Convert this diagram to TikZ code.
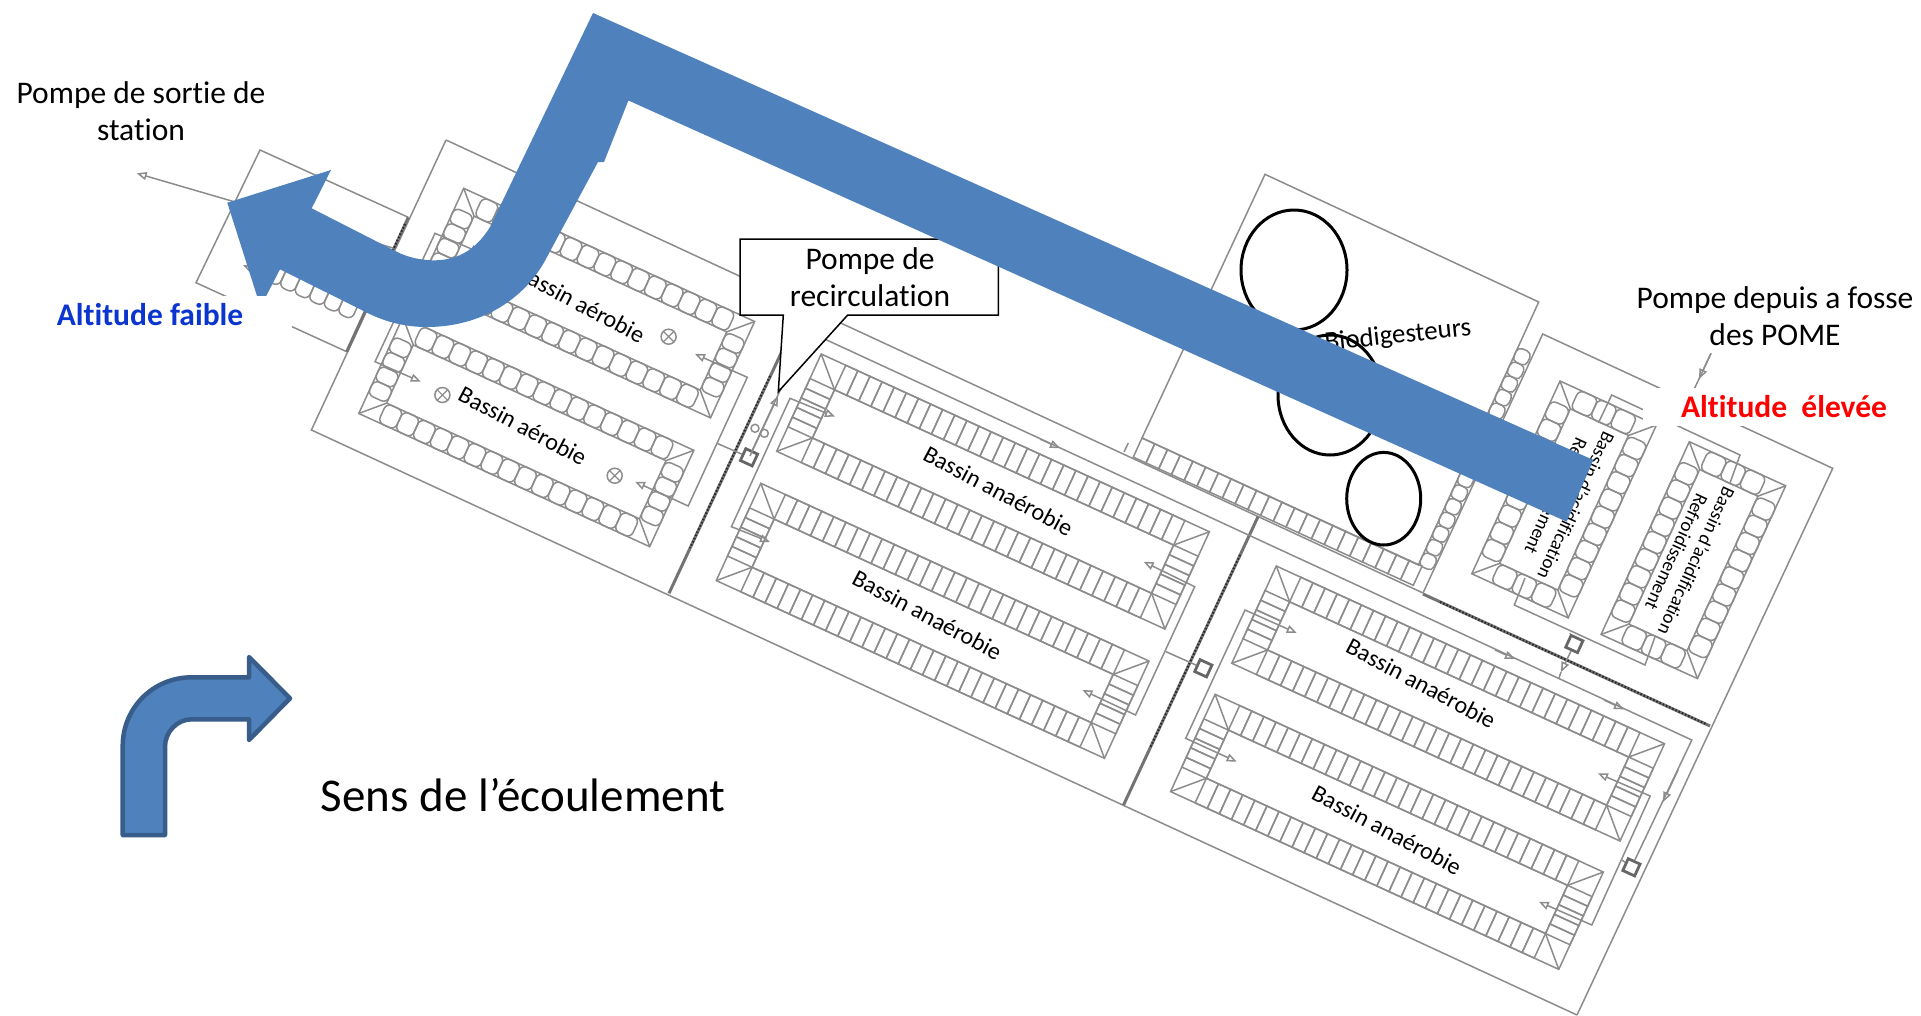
\documentclass[tikz,border=0pt]{standalone}
\usepackage{fontspec}
\setmainfont[Ligatures=NoCommon]{Carlito}
\usetikzlibrary{positioning, arrows.meta, calc}

\definecolor{bleufleche}{HTML}{4F81BD}
\definecolor{bleucontour}{HTML}{385D8A}
\definecolor{bleufaible}{HTML}{0B35CF}
\definecolor{traitplan}{gray}{0.55}

\tikzset{
    plan/.style={draw=traitplan, line width=1.5pt},
    cellule/.style={draw=traitplan, line width=1.5pt},
    conduite/.style={draw=traitplan, line width=1.5pt, -{Triangle[open, length=10pt, width=8pt]}},
    cadre/.style={draw=traitplan, line width=1.5pt, {Triangle[open, length=10pt, width=8pt]}-{Triangle[open, length=10pt, width=8pt]}},
    cloison/.style={draw=black!55, line width=3pt},
    pointille/.style={draw=black!85, line width=2pt, dash pattern=on 1.5pt off 2pt},
    pompe/.style={draw=black!60, line width=2.8pt, rectangle, minimum size=13pt, inner sep=0pt, rotate=-24.6},
    vanne/.style={draw=traitplan, line width=1.5pt, circle, minimum size=8pt, inner sep=0pt},
    aerateur/.style={draw=traitplan, line width=1.5pt, circle, minimum size=15pt, inner sep=0pt,
        path picture={\draw[traitplan, line width=1.2pt] (path picture bounding box.north west) -- (path picture bounding box.south east)
            (path picture bounding box.north east) -- (path picture bounding box.south west);}},
    texte/.style={font=\fontsize{31.5}{37}\selectfont, align=center, inner sep=0pt},
    etiquette/.style={font=\fontsize{24}{28}\selectfont, inner sep=0pt},
    acide/.style={font=\fontsize{19}{22}\selectfont, align=center, inner sep=0pt, rotate=-114.6},
    altitude/.style={font=\fontsize{31.5}{37}\selectfont\bfseries, fill=white, inner sep=0pt, minimum height=38pt}
}

% corner, length, width, bank, long cells, short cells, rounding
\newcommand{\bassin}[7]{
    \begin{scope}[shift={#1}, rotate=-24.6]
        \pgfmathsetmacro{\pasL}{(#2-2*#4)/#5}
        \pgfmathsetmacro{\pasW}{(#3-2*#4)/#6}
        \draw[cellule] (0,0) rectangle (#2,#3);
        \draw[cellule] (#4,#4) rectangle (#2-#4,#3-#4);
        % corners
        \draw[cellule] (0,0) -- (#4,#4) (#2,0) -- (#2-#4,#4) (0,#3) -- (#4,#3-#4) (#2,#3) -- (#2-#4,#3-#4);
        % long sides
        \foreach \i in {1,...,#5}
        {
            \draw[cellule, rounded corners=#7] (#4+\i*\pasL-\pasL,0) rectangle ++(\pasL,#4);
            \draw[cellule, rounded corners=#7] (#4+\i*\pasL-\pasL,#3-#4) rectangle ++(\pasL,#4);
        }
        % short sides
        \foreach \i in {1,...,#6}
        {
            \draw[cellule, rounded corners=#7] (0,#4+\i*\pasW-\pasW) rectangle ++(#4,\pasW);
            \draw[cellule, rounded corners=#7] (#2-#4,#4+\i*\pasW-\pasW) rectangle ++(#4,\pasW);
        }
    \end{scope}
}

% origin, angle, cells, pitch, width, rounding
\newcommand{\rangee}[6]{
    \begin{scope}[shift={#1}, rotate=#2]
        \foreach \i in {1,...,#3}
        {
            \draw[cellule, rounded corners=#6] (\i*#4-#4,0) rectangle ++(#4,#5);
        }
    \end{scope}
}

\begin{document}
\begin{tikzpicture}[x=1pt, y=-1pt]
        \useasboundingbox (0,0) rectangle (1921,1015);

        % block outlines
        \draw[plan] (446,140) -- (311.4,430) -- (1577,1015);
        \draw[plan] (446,140) -- (1423,593);
        \draw[plan] (1265,174.3) -- (1538.7,302) -- (1418.3,565) -- (1142,438) -- cycle;
        \draw[plan] (1423,593) -- (1542.7,334) -- (1832.7,468.3) -- (1577,1015);
        \draw[plan] (408.3,217.3) -- (260,150) -- (196,282.7) -- (346.7,351.7);

        % walls between the blocks
        \draw[cloison] (804,304) -- (669,593.3);
        \draw[cloison] (1258,516.7) -- (1123.5,805);
        \draw[cloison] (1423,594) -- (1710,726);
        \draw[cloison] (408.3,217.3) -- (346.7,351.7);
        \draw[pointille] (770,376) -- (690,548);
        \draw[pointille] (1240,555) -- (1150,748);
        \draw[pointille] (1440,602) -- (1706,724);
        \draw[pointille] (405,224) -- (392,252);

        % bands of cells round the digesters
        \rangee{(1142,438)}{-24.6}{22}{14}{21}{0pt}
        \rangee{(1418.3,565)}{65.4}{16}{15}{15}{5pt}
        \rangee{(273,260.5)}{-24.6}{6}{16}{21}{6pt}
        \draw[plan] (1128.3,443) -- (1124,452);

        % basins
        \bassin{(821.2,354)}{427}{107}{27}{28}{5}{0pt}
        \bassin{(760.8,483.3)}{427}{107}{27}{28}{5}{0pt}
        \bassin{(1276.3,566)}{427}{107}{27}{28}{5}{0pt}
        \bassin{(1215.1,694.3)}{427}{107}{27}{28}{5}{0pt}
        \bassin{(463.7,188.3)}{320}{106}{21}{15}{4}{6pt}
        \bassin{(402.9,317.1)}{320}{106}{21}{15}{4}{6pt}
        \bassin{(1560,381)}{106}{212}{21}{3}{9}{6pt}
        \bassin{(1689.3,441.7)}{106}{212}{21}{3}{9}{6pt}

        % feed frames of the basins
        \draw[cadre] (1143.6,561.7) -- (1194.7,586.7) -- (1135.5,715) -- (1082.4,690);
        \draw[cadre] (835,416.7) -- (790,398.3) -- (731.4,526.7) -- (770,542);
        \draw[cadre] (1296.7,633) -- (1245,610) -- (1185.7,738.3) -- (1236.7,761.7);
        \draw[cadre] (1597.9,773.3) -- (1650.2,796) -- (1591.8,925) -- (1538.8,901.7);
        \draw[cadre] (695,354) -- (747.3,377.3) -- (688.2,506) -- (635,481.7);
        \draw[cadre] (480.8,253) -- (435,233.3) -- (375,361.7) -- (420.8,381.7);
        \draw[plan] (1598.3,423) -- (1611.7,395) -- (1740,455) -- (1730,483);
        \draw[plan] (1525,578) -- (1514.3,605) -- (1645,665) -- (1655,636.7);

        % pumps
        \node[pompe] (pompeA) at (749,457.3) {};
        \node[pompe] (pompeB) at (1203.3,668.3) {};
        \node[pompe] (pompeC) at (1631.4,867.3) {};
        \node[pompe] (pompeD) at (1574.3,644) {};
        \node[vanne] (vanneA) at (755,428.3) {};
        \node[vanne] (vanneB) at (764.3,433.3) {};

        % main pipe
        \coordinate (coudeA) at (807.7,331.2);
        \coordinate (coudeB) at (1691.8,740);
        \draw[plan] (pompeA) -- (coudeA) -- (coudeB) -- (pompeC);
        \draw[plan] (717,443.3) -- (pompeA);
        \draw[plan] (1166,651.7) -- (pompeB);
        \draw[plan] (1622,860) -- (pompeC);
        \draw[plan] (1570,633) -- (pompeD);
        \draw[conduite] (750,456) -- (778,396);
        \draw[conduite] (1040,439) -- (1060,448.2);
        \draw[conduite] (1495,650) -- (1515,659);
        \draw[conduite] (1604,700) -- (1624,709.4);
        \draw[conduite] (1678,770) -- (1663,802);
        \draw[conduite] (pompeD) -- (1561,672);
        \draw[plan] (1561,672) -- (1559,678);

        % inlet and outlet
        \coordinate (entree) at (1711,353.3);
        \coordinate (sortie) at (136.7,173.3);
        \draw[plan] (entree) -- (1690,398);
        \draw[conduite] (entree) -- (1699,379);
        \draw[conduite] (393,248) -- (sortie);
        \draw[conduite] (265,275) -- (243,265);

        % aerators
        \node[aerateur] (aerA) at (668.6,336.7) {};
        \node[aerateur] (aerB) at (614.7,475.7) {};
        \node[aerateur] (aerC) at (442.4,395) {};

        % digesters
        \draw[black, line width=3pt] (1294,270) ellipse (53 and 60);
        \draw[black, line width=3pt] (1330,395) ellipse (52 and 60);
        \draw[black, line width=3pt] (1383.7,498.7) ellipse (37 and 46.3);

        % basin labels
        \node[etiquette, rotate=-28] (labA) at (998.4,490.7) {Bassin anaérobie};
        \node[etiquette, rotate=-28] (labB) at (927.3,615) {Bassin anaérobie};
        \node[etiquette, rotate=-28] (labC) at (1421.2,683.3) {Bassin anaérobie};
        \node[etiquette, rotate=-28] (labD) at (1386.9,830) {Bassin anaérobie};
        \node[etiquette, rotate=-28] (labE) at (581,303.6) {Bassin aérobie};
        \node[etiquette, rotate=-28] (labF) at (522.8,425.8) {Bassin aérobie};
        \node[etiquette, rotate=6, font=\fontsize{26.9}{30}\selectfont] (labG) at (1398,336) {Biodigesteurs};
        \node[acide] (labH) at (1566.3,501) {Bassin d’acidification\\Refroidissement};
        \node[acide] (labI) at (1686.7,556.7) {Bassin d’acidification\\Refroidissement};

        % callout
        \draw[black, fill=white, line width=1.5pt] (740,239) -- (998.3,239) -- (998.3,315) -- (847.7,315) -- (778.3,391.7) -- (783.3,315) -- (740,315) -- cycle;
        \node[texte] (recirculation) at (870,277) {Pompe de\\recirculation};

        % flow arrow
        \fill[bleufleche] (1593.3,460) -- (593,13) -- (490,227)
            .. controls (473,255) and (450,262) .. (427,260)
            .. controls (415,259) and (405,256) .. (396.7,251.7)
            -- (311.7,208.3) -- (331,170) -- (227.3,202.7) -- (260.5,307) -- (280,269.3) -- (365,311.7)
            .. controls (385,322) and (405,327) .. (427,327)
            .. controls (480,327) and (525,300) .. (547,257)
            -- (598,162) -- (604,162) -- (628.4,100.5) -- (1566.7,521.7) -- cycle;

        % labels
        \node[texte] (sortieTexte) at (141,111) {Pompe de sortie de\\station};
        \node[texte] (fosseTexte) at (1775,316) {Pompe depuis a fosse\\des POME};
        \node[altitude, text=bleufaible, minimum width=284pt] (faible) at (150,315) {Altitude faible};
        \node[altitude, text=red, minimum width=282pt] (elevee) at (1784,407) {Altitude\ \ élevée};
        \node[inner sep=0pt, font=\fontsize{47}{50}\selectfont] (sens) at (523,795) {Sens de l’écoulement};

        % legend arrow
        \draw[bleucontour, fill=bleufleche, line width=4.5pt, line join=round] (122.7,835) -- (122.7,746)
            .. controls (122.7,708) and (153,677.3) .. (191.7,677.3) -- (249,677.3) -- (249,657) -- (290,698.3) -- (249,740) -- (249,719.3)
            -- (191.7,719.3) .. controls (177,719.3) and (165,732) .. (165,746.7) -- (165,835) -- cycle;
    \end{tikzpicture}
\end{document}
